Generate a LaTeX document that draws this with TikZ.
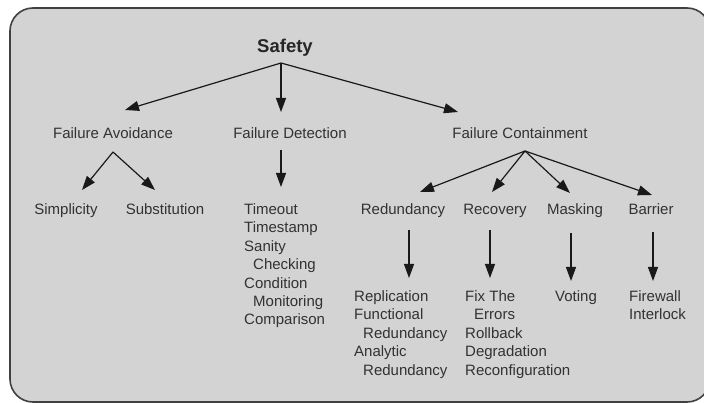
\documentclass[tikz,border=0pt]{standalone}
\usepackage{fontspec}
\setmainfont{Liberation Sans}
\usetikzlibrary{arrows.meta}
\definecolor{panel}{RGB}{211,211,211}
\definecolor{txt}{RGB}{50,50,50}
\begin{document}
\begin{tikzpicture}[x=1pt,y=-1pt,
  lbl/.style={inner sep=0pt, anchor=base, text=txt, font=\fontsize{15}{18.4}\selectfont},
  lst/.style={inner sep=0pt, anchor=north west, align=left, text=txt, font=\fontsize{15}{18.4}\selectfont},
  arr/.style={-{Triangle[length=14pt,width=10pt]}, line width=1.2pt, black!90}]
\useasboundingbox (0,0) rectangle (704,403);
\fill[white] (0,0) rectangle (704,403);
\draw[fill=panel, draw=black!75, line width=1.6pt, rounded corners=23pt] (10,8) rectangle (710,402);

\node[font=\bfseries\fontsize{18.5}{22}\selectfont, inner sep=0pt, anchor=base, text=black!85] (safety) at (285,53) {Safety};
\node[lbl] (fa) at (113,138.5) {Failure Avoidance};
\node[lbl] (fd) at (290,138.5) {Failure Detection};
\node[lbl] (fc) at (520,138.5) {Failure Containment};
\node[lbl] (simp) at (66,214.5) {Simplicity};
\node[lbl] (subs) at (165,214.5) {Substitution};
\node[lbl] (red) at (403,214.5) {Redundancy};
\node[lbl] (rec) at (495,214.5) {Recovery};
\node[lbl] (mask) at (575,214.5) {Masking};
\node[lbl] (bar) at (651,214.5) {Barrier};

\node[lst] (fdl) at (244,203.5) {Timeout\\Timestamp\\Sanity\\\hspace*{9pt}Checking\\Condition\\\hspace*{9pt}Monitoring\\Comparison};
\node[lst] (redl) at (354,290.5) {Replication\\Functional\\\hspace*{9pt}Redundancy\\Analytic\\\hspace*{9pt}Redundancy};
\node[lst] (recl) at (465,290.5) {Fix The\\\hspace*{9pt}Errors\\Rollback\\Degradation\\Reconfiguration};
\node[lbl] (maskl) at (576,301.5) {Voting};
\node[lst] (barl) at (629,290.5) {Firewall\\Interlock};

\coordinate (sA) at (281,63);
\coordinate (faT) at (125,110);
\coordinate (fdT) at (281,112);
\coordinate (fcT) at (458,112);
\coordinate (faA) at (113,152);
\coordinate (simpT) at (82,190);
\coordinate (subsT) at (155,190);
\coordinate (fdS) at (281,150);
\coordinate (fdlT) at (281,187);
\coordinate (fcA) at (525,151);
\coordinate (redT) at (420,192);
\coordinate (recT) at (492,192);
\coordinate (maskT) at (570,193);
\coordinate (barT) at (652,195);
\coordinate (redS) at (409,230);
\coordinate (redlT) at (409,278);
\coordinate (recS) at (490,230);
\coordinate (reclT) at (490,278);
\coordinate (maskS) at (571,233);
\coordinate (masklT) at (571,281);
\coordinate (barS) at (653,232);
\coordinate (barlT) at (653,281);

\draw[arr] (sA) -- (faT);
\draw[arr] (sA) -- (fdT);
\draw[arr] (sA) -- (fcT);
\draw[arr] (faA) -- (simpT);
\draw[arr] (faA) -- (subsT);
\draw[arr] (fdS) -- (fdlT);
\draw[arr] (fcA) -- (redT);
\draw[arr] (fcA) -- (recT);
\draw[arr] (fcA) -- (maskT);
\draw[arr] (fcA) -- (barT);
\draw[arr] (redS) -- (redlT);
\draw[arr] (recS) -- (reclT);
\draw[arr] (maskS) -- (masklT);
\draw[arr] (barS) -- (barlT);
\end{tikzpicture}
\end{document}
